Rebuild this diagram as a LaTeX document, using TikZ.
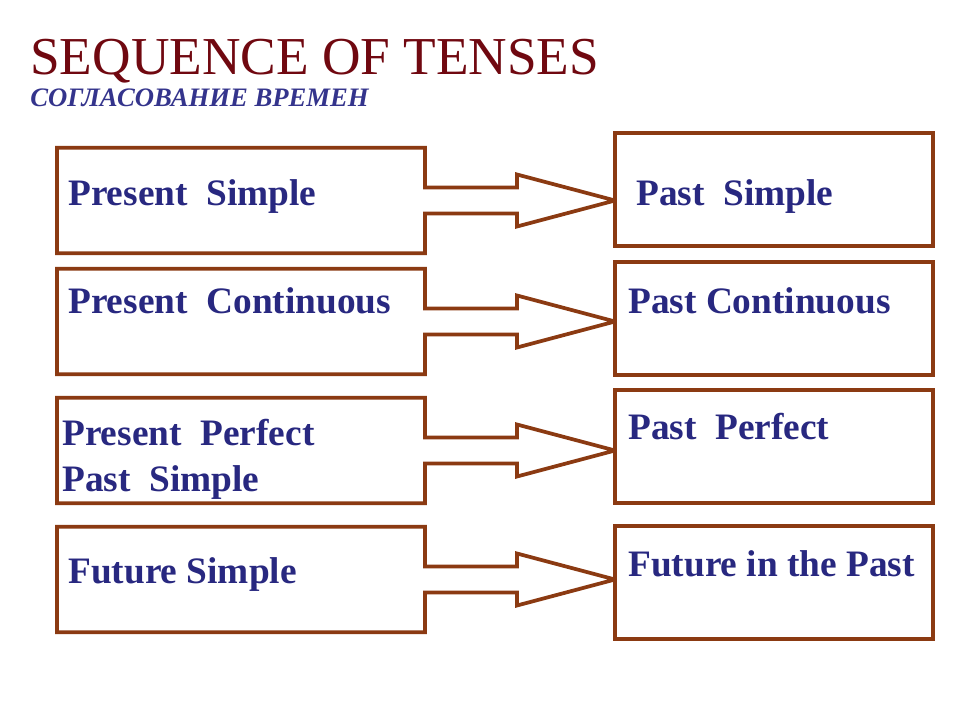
\documentclass[tikz,border=0pt]{standalone}
\usepackage{fontspec}
\setmainfont{Liberation Serif}
\usetikzlibrary{positioning,calc}

\definecolor{tenseBrown}{RGB}{139,58,18}
\definecolor{tenseNavy}{RGB}{40,40,128}
\definecolor{titleRed}{RGB}{112,8,16}
\definecolor{subBlue}{RGB}{52,52,140}

\begin{document}
\begin{tikzpicture}[
      x=0.75pt, y=-0.75pt,
      nowbox/.style={
        inner sep=0pt,
        outer sep=0pt,
        minimum width=276pt,
        minimum height=79pt
      },
      thenbox/.style={
        draw=tenseBrown,
        line width=2.8pt,
        inner sep=0pt,
        outer sep=0pt,
        minimum width=238.5pt,
        minimum height=84.5pt
      },
      arrowbox/.style={draw=tenseBrown, line width=2.8pt, line join=miter, miter limit=3},
      tense/.style={
        anchor=base west,
        inner sep=0pt,
        text=tenseNavy,
        font=\fontsize{28}{34}\selectfont\bfseries,
        align=left
      }
    ]
    \useasboundingbox (0,0) rectangle (960,720);

    % heading
    \node[anchor=base west, inner sep=0pt, text=titleRed,
      font=\fontsize{40}{44}\selectfont] (title) at (30,75)
    {SEQUENCE OF TENSES};
    \node[anchor=base west, inner sep=0pt, text=subBlue,
      font=\fontsize{20}{24}\selectfont\bfseries\itshape] (subtitle) at (30,107)
    {СОГЛАСОВАНИЕ ВРЕМЕН};

    % left column (direct speech)
    \node[nowbox] (presS) at (241,200.5) {};
    \node[nowbox] (presC) at (241,321.5) {};
    \node[nowbox] (presP) at (241,450.5) {};
    \node[nowbox] (futS) at (241,579.5) {};

    % right column (reported speech)
    \node[thenbox] (pastS) at (774,189.5) {};
    \node[thenbox] (pastC) at (774,318.5) {};
    \node[thenbox] (pastP) at (774,446.5) {};
    \node[thenbox] (futP) at (774,582.5) {};

    % box with its arrow
    \foreach \a/\b in {presS/pastS, presC/pastC, presP/pastP, futS/futP}
      \draw[arrowbox] (\a.north east) -- ($(\a.east)+(0,-13)$) -- ++(92,0)
        -- ++(0,-13) -- (\a.east -| \b.west) -- ($(\a.east)+(92,26)$)
        -- ++(0,-13) -- ($(\a.east)+(0,13)$) -- (\a.south east)
        -- (\a.south west) -- (\a.north west) -- cycle;

    % texts
    \node[tense] (presS-t) at (68,206) {Present~ Simple};
    \node[tense] (presC-t) at (68,313) {Present~ Continuous};
    \node[tense] (presP-t) at (62,491) {Present~ Perfect\\Past~ Simple};
    \node[tense] (futS-t) at (68,583) {Future Simple};

    \node[tense] (pastS-t) at (636,206) {Past~ Simple};
    \node[tense] (pastC-t) at (628,313) {Past Continuous};
    \node[tense] (pastP-t) at (628,439) {Past~ Perfect};
    \node[tense] (futP-t) at (628,576) {Future in the Past};
  \end{tikzpicture}
\end{document}
